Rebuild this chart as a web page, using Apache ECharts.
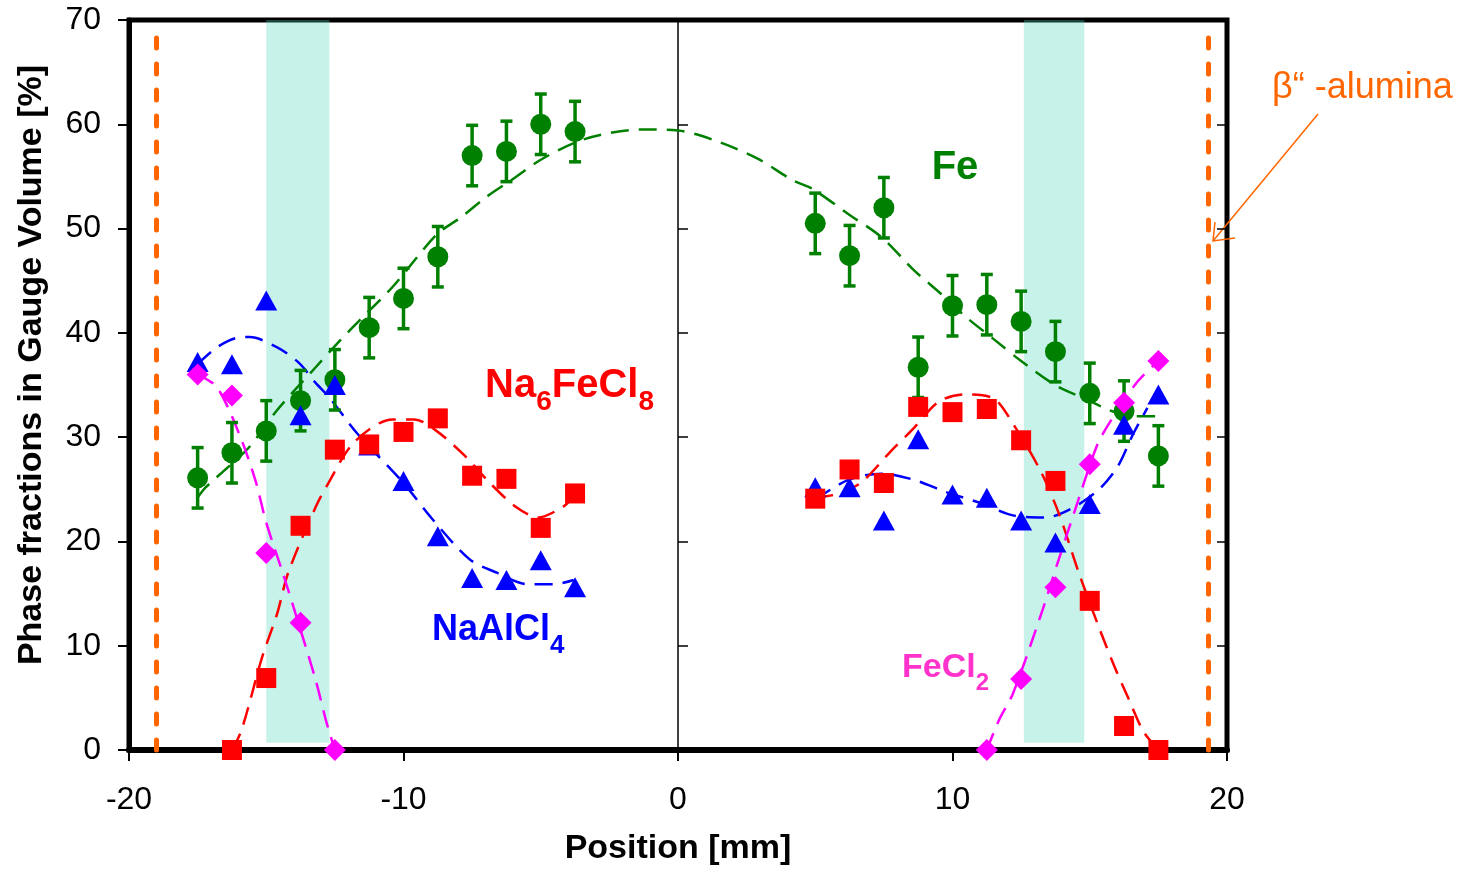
<!DOCTYPE html>
<html>
<head>
<meta charset="utf-8">
<title>Phase fractions</title>
<script src="https://cdn.jsdelivr.net/npm/echarts@6.0.0/dist/echarts.min.js"></script>
<style>
  html, body { margin: 0; padding: 0; background: #fff; }
  #chart { width: 1466px; height: 871px; }
</style>
</head>
<body>
<div id="chart"></div>
<script>
// measuring positions [mm]
var positions = [-17.5, -16.25, -15, -13.75, -12.5, -11.25, -10, -8.75, -7.5, -6.25, -5, -3.75,
  5, 6.25, 7.5, 8.75, 10, 11.25, 12.5, 13.75, 15, 16.25, 17.5];

// phase fractions [%]
var fe = [26.1, 28.5, 30.6, 33.5, 35.5, 40.5, 43.3, 47.3, 57.0, 57.4, 60.0, 59.3,
  50.5, 47.4, 52.0, 36.7, 42.6, 42.7, 41.1, 38.2, 34.2, 32.5, 28.2];
var feErr = [2.9, 2.9, 2.9, 2.9, 2.9, 2.9, 2.9, 2.9, 2.9, 2.9, 2.9, 2.9,
  2.9, 2.9, 2.9, 2.9, 2.9, 2.9, 2.9, 2.9, 2.9, 2.9, 2.9];
var naalcl4 = [37.2, 37.0, 43.1, 32.1, 35.0, 29.2, 25.8, 20.5, 16.5, 16.3, 18.2, 15.6,
  25.2, 25.2, 22.0, 29.8, 24.5, 24.2, 22.0, 19.9, 23.6, 31.2, 34.1];
var na6fecl8 = [null, 0, 6.9, 21.5, 28.8, 29.3, 30.5, 31.8, 26.3, 26.0, 21.3, 24.6,
  24.1, 26.9, 25.6, 32.9, 32.4, 32.7, 29.7, 25.8, 14.3, 2.3, 0];
var fecl2 = [36.0, 34.0, 18.9, 12.2, 0, null, null, null, null, null, null, null,
  null, null, null, null, null, 0, 6.8, 15.6, 27.4, 33.3, 37.3];

// dashed guide curves
var feFit = [[-17.5, 24.2], [-17.2, 25.2], [-16.4, 27.1], [-15.6, 29.1], [-14.6, 32.6], [-13.2, 36.7],
  [-12.3, 39.3], [-11.6, 41.2], [-10.4, 44.4], [-8.8, 49.4], [-7.9, 51.1], [-7, 53.0], [-6.1, 54.6],
  [-5, 56.6], [-3.8, 58.2], [-2.8, 59.0], [-1.4, 59.5], [0, 59.4], [1.5, 58.3], [2.9, 56.7],
  [4.2, 54.6], [4.9, 53.8], [6.2, 51.4], [7.4, 49.2], [8.6, 46.0], [9.6, 43.7], [10.5, 41.5],
  [11.5, 39.4], [12.5, 37.3], [13.8, 34.9], [14.9, 33.6], [15.7, 32.6], [16.6, 32.0], [17.5, 32.0]];
var naalcl4FitL = [[-17.5, 37.0], [-16.8, 38.6], [-16.1, 39.5], [-15.6, 39.6], [-14.6, 38.6],
  [-13.8, 37.1], [-13.2, 35.2], [-12.7, 33.8], [-11.7, 30.4], [-10, 25.6], [-9, 22.3],
  [-7.6, 18.3], [-6.6, 17.0], [-5.5, 15.9], [-4.5, 15.9], [-3.8, 16.3]];
var naalcl4FitR = [[5, 24.0], [6.2, 25.9], [7.4, 26.5], [8.6, 25.9], [9.8, 24.7], [11, 23.7],
  [12.2, 22.5], [13.4, 22.3], [14.3, 23.1], [15.3, 24.9], [16, 27.1], [16.6, 30.4], [17.1, 32.8]];
var na6fecl8FitL = [[-16.25, 0], [-15.9, 1.9], [-15.15, 8.9], [-14.6, 13.1], [-14.2, 17], [-13.2, 23.3],
  [-12.8, 25.3], [-11.8, 29.5], [-10.4, 31.7], [-9.6, 31.7], [-8.8, 30.6], [-7.8, 28.3],
  [-6.85, 25.6], [-5.9, 23.3], [-5.1, 22.3], [-4.2, 23.3], [-3.8, 24.3]];
var na6fecl8FitR = [[5, 24.2], [5.9, 24.6], [6.7, 25.7], [7.7, 28.5], [8.6, 30.9], [9.5, 33.4],
  [10.4, 34.1], [11.5, 33.7], [12.2, 31.3], [13.2, 26.8], [13.9, 22.5], [14.6, 17.0],
  [15.3, 12.0], [15.9, 8.0], [16.4, 5.0], [16.95, 1.8], [17.5, 0]];
var fecl2FitL = [[-17.5, 36.0], [-16.8, 34.8], [-16, 30.4], [-15.4, 25.9], [-15, 21.8], [-14.4, 17],
  [-13.9, 12.8], [-13.2, 6.7], [-12.8, 2.6], [-12.5, 0]];
var fecl2FitR = [[11.25, 0], [11.7, 2.9], [12.2, 5.4], [13.2, 12.8], [13.8, 17.7], [14.5, 23.3],
  [15.25, 29.1], [15.7, 31.3], [16.7, 35.2], [17.5, 37.3]];

// shaded regions and beta"-alumina walls
var bands = [[-15, -12.7], [12.6, 14.8]];
var bandY = [0.7, 70];
var alumina = [-19, 19.3];
var aluminaTop = 68.8;

var font = 'Liberation Sans, Arial, sans-serif';
var GREEN = '#008000', BLUE = '#0000ff', RED = '#ff0000', MAGENTA = '#ff00ff', ORANGE = '#ff6600';

function pts(vals) {
  var out = [];
  for (var i = 0; i < positions.length; i++) {
    if (vals[i] != null) out.push([positions[i], vals[i]]);
  }
  return out;
}

function fitLine(data, color) {
  return {
    type: 'line', data: data, smooth: 0.3, showSymbol: false, silent: true, z: 2,
    lineStyle: { color: color, width: 2.5, type: [18, 10] }
  };
}

function marks(vals, color, symbol, size) {
  return {
    type: 'scatter', data: pts(vals), symbol: symbol, symbolSize: size, clip: false, z: 4,
    itemStyle: { color: color, opacity: 1 }
  };
}

// chemical formula label: main text with lowered subscripts
function formula(text, x, y, color, size, subSize, lineH) {
  return {
    type: 'text', x: x, y: y,
    style: {
      text: text,
      rich: {
        m: { fontSize: size, fontWeight: 'bold', fill: color, lineHeight: size + 8, fontFamily: font },
        s: { fontSize: subSize, fontWeight: 'bold', fill: color, lineHeight: lineH, verticalAlign: 'bottom', fontFamily: font }
      }
    }
  };
}

var errData = [];
for (var i = 0; i < positions.length; i++) {
  errData.push([positions[i], fe[i] - feErr[i], fe[i] + feErr[i]]);
}

var chart = echarts.init(document.getElementById('chart'));

var option = {
  backgroundColor: '#fff',
  animation: false,
  grid: {
    left: 129, right: 239, top: 20, bottom: 121,
    show: true, borderColor: '#000', borderWidth: 5
  },
  xAxis: {
    type: 'value', min: -20, max: 20, interval: 10,
    name: 'Position [mm]', nameLocation: 'middle', nameGap: 82,
    nameTextStyle: { fontSize: 34, fontWeight: 'bold', color: '#000', fontFamily: font },
    axisLine: { onZero: false, lineStyle: { color: '#000', width: 6 } },
    axisTick: { length: 11, lineStyle: { color: '#000', width: 2 } },
    axisLabel: { fontSize: 32, color: '#000', margin: 34, fontFamily: font },
    splitLine: { show: false }
  },
  yAxis: [
    {
      type: 'value', min: 0, max: 70, interval: 10,
      name: 'Phase fractions in Gauge Volume [%]', nameLocation: 'middle', nameGap: 80,
      nameTextStyle: { fontSize: 34, fontWeight: 'bold', color: '#000', fontFamily: font, padding: [0, 0, 0, 40] },
      axisLine: { onZero: false, lineStyle: { color: '#000', width: 5 } },
      axisTick: { length: 11, lineStyle: { color: '#000', width: 2 } },
      axisLabel: { fontSize: 32, color: '#000', margin: 28, fontFamily: font },
      splitLine: { show: false }
    },
    {
      // centre line at x = 0, ticks to the left
      type: 'value', min: 0, max: 70, interval: 10,
      axisLine: { onZero: true, lineStyle: { color: '#000', width: 1.5 } },
      axisTick: { length: 10, lineStyle: { color: '#000', width: 1.5 } },
      axisLabel: { show: false },
      splitLine: { show: false }
    },
    {
      // same line, ticks to the right
      type: 'value', min: 0, max: 70, interval: 10,
      axisLine: { show: false, onZero: true },
      axisTick: { inside: true, length: 10, lineStyle: { color: '#000', width: 1.5 } },
      axisLabel: { show: false },
      splitLine: { show: false }
    }
  ],
  series: [
    fitLine(feFit, GREEN),
    fitLine(naalcl4FitL, BLUE),
    fitLine(naalcl4FitR, BLUE),
    fitLine(na6fecl8FitL, RED),
    fitLine(na6fecl8FitR, RED),
    fitLine(fecl2FitL, MAGENTA),
    fitLine(fecl2FitR, MAGENTA),
    {
      type: 'custom', data: errData, z: 3, silent: true,
      encode: { x: 0, y: [1, 2] },
      renderItem: function (params, api) {
        var x = api.value(0);
        var lo = api.coord([x, api.value(1)]);
        var hi = api.coord([x, api.value(2)]);
        var w = 6;
        var st = { stroke: GREEN, lineWidth: 3.5 };
        return {
          type: 'group', children: [
            { type: 'line', shape: { x1: hi[0], y1: hi[1], x2: lo[0], y2: lo[1] }, style: st },
            { type: 'line', shape: { x1: hi[0] - w, y1: hi[1], x2: hi[0] + w, y2: hi[1] }, style: st },
            { type: 'line', shape: { x1: lo[0] - w, y1: lo[1], x2: lo[0] + w, y2: lo[1] }, style: st }
          ]
        };
      }
    },
    marks(fe, GREEN, 'circle', 21),
    marks(naalcl4, BLUE, 'triangle', [22, 20]),
    marks(na6fecl8, RED, 'rect', 20),
    marks(fecl2, MAGENTA, 'diamond', 22),
    {
      type: 'line', data: [], z: 6, silent: true,
      markArea: {
        silent: true,
        itemStyle: { color: 'rgba(80, 215, 190, 0.32)' },
        data: bands.map(function (b) {
          return [{ coord: [b[0], bandY[0]] }, { coord: [b[1], bandY[1]] }];
        })
      },
      markLine: {
        silent: true, symbol: ['none', 'none'], label: { show: false },
        lineStyle: { color: ORANGE, width: 5, type: [10, 16], cap: 'round' },
        data: alumina.map(function (x) {
          return [{ coord: [x, 0] }, { coord: [x, aluminaTop] }];
        })
      }
    }
  ],
  graphic: [
    {
      type: 'text', x: 955, y: 168,
      style: { text: 'Fe', fill: GREEN, font: 'bold 40px ' + font, align: 'center', verticalAlign: 'middle' }
    },
    formula('{m|Na}{s|6}{m|FeCl}{s|8}', 485, 356, RED, 40, 28, 60),
    formula('{m|NaAlCl}{s|4}', 432, 602, BLUE, 36, 26, 57),
    formula('{m|FeCl}{s|2}', 902, 641, '#ff33cc', 34, 24, 54),
    {
      type: 'text', x: 1272, y: 88,
      style: { text: 'β“ -alumina', fill: ORANGE, font: '36px ' + font, verticalAlign: 'middle' }
    },
    {
      type: 'line', shape: { x1: 1318, y1: 114, x2: 1213, y2: 241 },
      style: { stroke: ORANGE, lineWidth: 1.5 }
    },
    {
      type: 'polyline', shape: { points: [[1215, 222], [1213, 241], [1235, 238]] },
      style: { stroke: ORANGE, lineWidth: 1.5, fill: null }
    }
  ]
};

chart.setOption(option);
</script>
</body>
</html>
